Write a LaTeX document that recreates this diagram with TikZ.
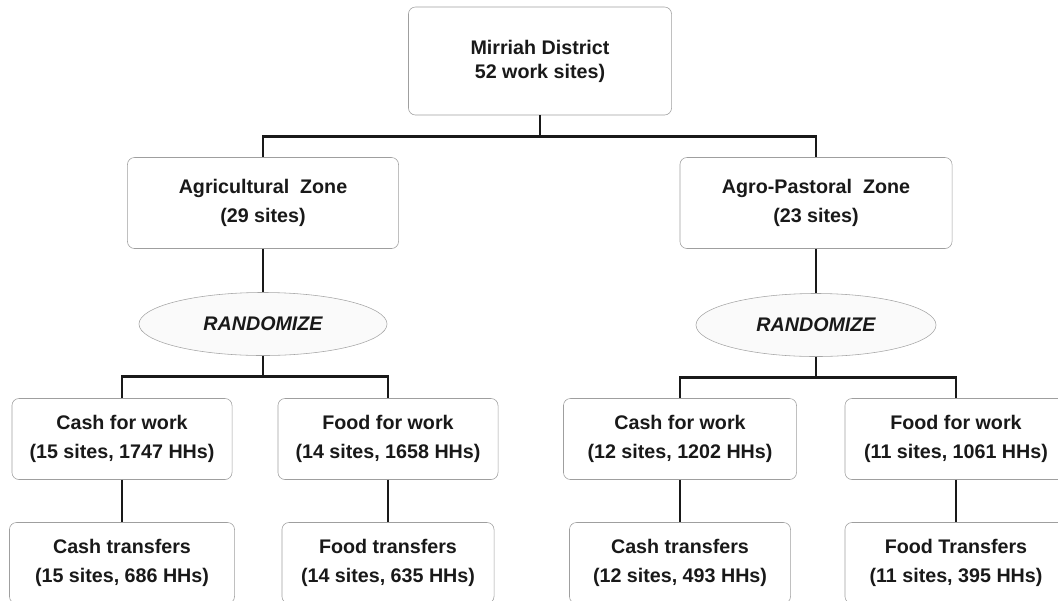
\documentclass[tikz,border=0pt]{standalone}
\usepackage{fontspec}
\setmainfont{Liberation Sans}
\usetikzlibrary{shapes.geometric}

\begin{document}
\begin{tikzpicture}[x=0.025cm, y=-0.025cm,
  box/.style={draw=gray!75, fill=white, rectangle, rounded corners=5pt, align=center, text=black!90, font=\bfseries\fontsize{14}{21}\selectfont, minimum height=2.025cm},
  rnd/.style={draw=gray!70, fill=gray!4, ellipse, text=black!90, minimum width=6.2cm, minimum height=1.575cm, font=\bfseries\itshape\fontsize{14}{17}\selectfont},
  link/.style={line width=1.9pt, black!90}]
\useasboundingbox (0,0) rectangle (1058,600);

% district
\node[box, minimum width=6.575cm, minimum height=2.7cm, font=\bfseries\fontsize{14}{17}\selectfont] (md) at (540,61) {Mirriah District\\52 work sites)};

% zones
\node[box, minimum width=6.775cm, minimum height=2.275cm] (az) at (263,203) {Agricultural~ Zone\\(29 sites)};
\node[box, minimum width=6.8cm, minimum height=2.275cm] (apz) at (816,203) {Agro-Pastoral~ Zone\\(23 sites)};

\node[rnd] (r1) at (263,324) {RANDOMIZE};
\node[rnd, minimum width=6cm] (r2) at (816,325) {RANDOMIZE};

% work
\node[box, minimum width=5.5cm] (cw1) at (122,439) {Cash for work\\(15 sites, 1747 HHs)};
\node[box, minimum width=5.5cm] (fw1) at (388,439) {Food for work\\(14 sites, 1658 HHs)};
\node[box, minimum width=5.825cm] (cw2) at (680,439) {Cash for work\\(12 sites, 1202 HHs)};
\node[box, minimum width=5.55cm] (fw2) at (956,439) {Food for work\\(11 sites, 1061 HHs)};

% transfers
\node[box, minimum width=5.625cm] (ct1) at (122,563) {Cash transfers\\(15 sites, 686 HHs)};
\node[box, minimum width=5.3cm] (ft1) at (388,563) {Food transfers\\(14 sites, 635 HHs)};
\node[box, minimum width=5.525cm] (ct2) at (680,563) {Cash transfers\\(12 sites, 493 HHs)};
\node[box, minimum width=5.55cm] (ft2) at (956,563) {Food Transfers\\(11 sites, 395 HHs)};

\draw[link] (md.south) -- ++(0,21) -| (az.north);
\draw[link] (md.south) -- ++(0,21) -| (apz.north);
\draw[link] (az) -- (r1);
\draw[link] (apz) -- (r2);
\draw[link] (r1.south) -- ++(0,21) -| (cw1.north);
\draw[link] (r1.south) -- ++(0,21) -| (fw1.north);
\draw[link] (r2.south) -- ++(0,21) -| (cw2.north);
\draw[link] (r2.south) -- ++(0,21) -| (fw2.north);
\draw[link] (cw1) -- (ct1);
\draw[link] (fw1) -- (ft1);
\draw[link] (cw2) -- (ct2);
\draw[link] (fw2) -- (ft2);
\end{tikzpicture}
\end{document}
